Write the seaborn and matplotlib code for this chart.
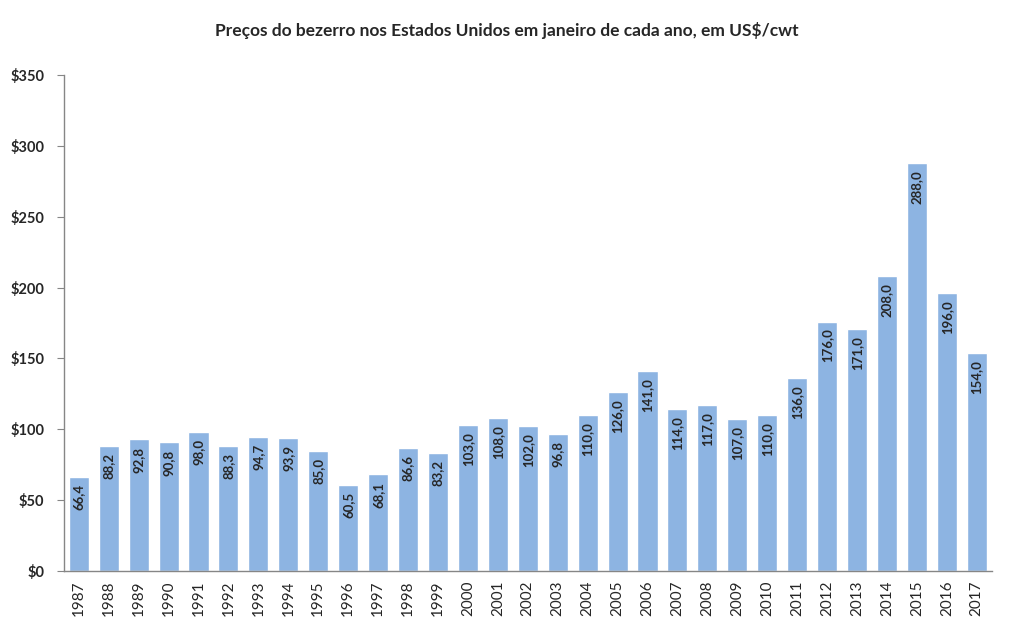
import numpy as np
import pandas as pd
import seaborn as sns
import matplotlib.pyplot as plt

years = list(range(1987, 2018))
prices = [66.4, 88.2, 92.8, 90.8, 98.0, 88.3, 94.7, 93.9, 85.0, 60.5,
          68.1, 86.6, 83.2, 103.0, 108.0, 102.0, 96.8, 110.0, 126.0, 141.0,
          114.0, 117.0, 107.0, 110.0, 136.0, 176.0, 171.0, 208.0, 288.0, 196.0,
          154.0]
y_ticks = [0, 50, 100, 150, 200, 250, 300, 350]

df = pd.DataFrame({"ano": [str(y) for y in years], "preco": prices})

sns.set_style("white")
plt.rcParams['font.family'] = ['Lato', 'DejaVu Sans']

fig = plt.figure(figsize=(10.13, 6.32), dpi=100)
ax = fig.add_axes([0.063, 0.0965, 0.916, 0.785])

sns.barplot(data=df, x="ano", y="preco", color="#8DB4E2", saturation=1,
            width=0.67, ax=ax)

# rotulos de valor dentro das barras, com virgula decimal
for i, v in enumerate(prices):
    ax.text(i, v - 5, f"{v:.1f}".replace(".", ","), rotation=90,
            ha="center", va="top", fontsize=9.5, fontweight="bold")

ax.set_ylim(0, 350)
ax.set_xlim(-0.5, len(years) - 0.5)
ax.set_yticks(y_ticks)
ax.set_yticklabels([f"${t}" for t in y_ticks], fontsize=10.5, fontweight="bold")
ax.set_xticks(range(len(years)))
ax.set_xticklabels(df["ano"], rotation=90, fontsize=11)
ax.tick_params(axis="x", which="major", length=0, pad=7)
ax.set_xticks(np.arange(-0.5, len(years)), minor=True)
ax.tick_params(axis="x", which="minor", length=5, color="#868686", direction="out")
ax.tick_params(axis="y", length=5, color="#868686", direction="out", left=True, pad=9)
ax.set_xlabel("")
ax.set_ylabel("")

for s in ["top", "right"]:
    ax.spines[s].set_visible(False)
for s in ["left", "bottom"]:
    ax.spines[s].set_color("#868686")
    ax.spines[s].set_linewidth(1)

fig.suptitle("Preços do bezerro nos Estados Unidos em janeiro de cada ano, em US$/cwt",
             fontsize=12.5, fontweight="bold", y=0.965)

plt.savefig("out.png", dpi=100)
